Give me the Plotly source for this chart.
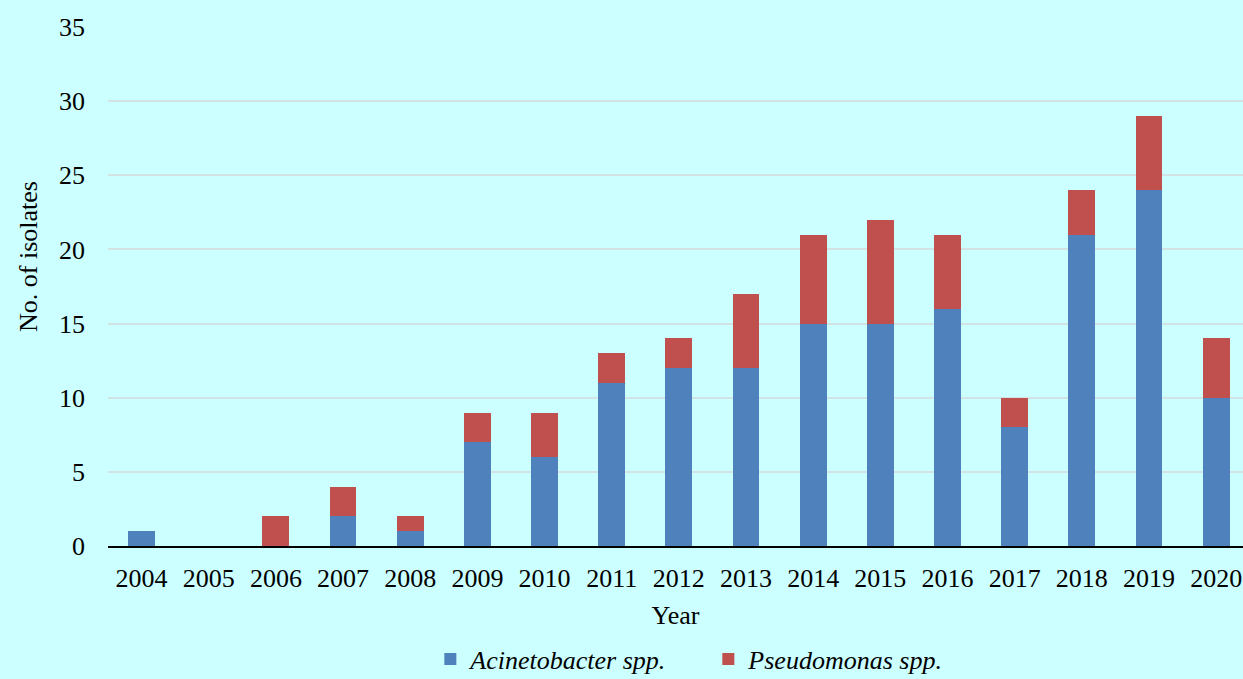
import plotly.graph_objects as go

years = ["2004", "2005", "2006", "2007", "2008", "2009", "2010", "2011", "2012",
         "2013", "2014", "2015", "2016", "2017", "2018", "2019", "2020"]
acinetobacter = [1, 0, 0, 2, 1, 7, 6, 11, 12, 12, 15, 15, 16, 8, 21, 24, 10]
pseudomonas = [0, 0, 2, 2, 1, 2, 3, 2, 2, 5, 6, 7, 5, 2, 3, 5, 4]

FONT = "Liberation Serif, Times New Roman, serif"
BG = "#ccffff"
FS = 26

fig = go.Figure()
fig.add_trace(go.Bar(x=years, y=acinetobacter, name="<i>Acinetobacter spp.</i>",
                     marker=dict(color="#4f81bd", line=dict(width=0))))
fig.add_trace(go.Bar(x=years, y=pseudomonas, name="<i>Pseudomonas spp.</i>",
                     marker=dict(color="#c0504d", line=dict(width=0))))

fig.update_layout(
    width=1243, height=679,
    barmode="stack", bargap=0.6,
    paper_bgcolor=BG, plot_bgcolor=BG,
    margin=dict(l=108, r=0, t=27, b=133, autoexpand=False),
    font=dict(family=FONT, size=FS, color="black"),
    showlegend=True,
    legend=dict(orientation="h", x=0.284, xanchor="left", y=-0.218, yanchor="middle",
                font=dict(size=FS), bgcolor="rgba(0,0,0,0)",
                traceorder="normal", entrywidth=233, itemwidth=30),
    xaxis=dict(type="category", range=[-0.5, 16.4], showline=True, linecolor="black",
               linewidth=1.5, ticks="", tickfont=dict(size=FS), automargin=False,
               ticklabelstandoff=8,
               title=dict(text="Year", font=dict(size=FS), standoff=14)),
    yaxis=dict(range=[0, 35], dtick=5, showgrid=True, gridcolor="#d3e2e2", gridwidth=1.5,
               zeroline=False, ticks="", tickfont=dict(size=FS), ticklabelstandoff=22,
               automargin=False),
)
# y-axis title placed in pixel terms relative to the plot area
fig.add_annotation(text="No. of isolates", textangle=-90,
                   x=(28 - 108) / 1135, xanchor="center",
                   y=(546 - 256) / 519, yanchor="middle",
                   xref="paper", yref="paper", showarrow=False,
                   font=dict(size=FS, family=FONT))

fig.write_html("out.html")
